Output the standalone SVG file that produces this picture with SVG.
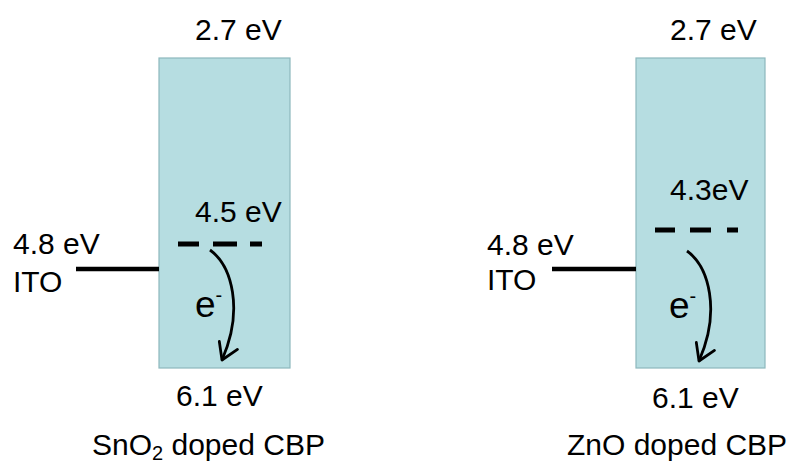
<svg xmlns="http://www.w3.org/2000/svg" width="809" height="465" viewBox="0 0 809 465">
<defs>
<style>
text{font-family:"Liberation Sans",Arial,sans-serif;font-size:30px;fill:#000}
.band{fill:#b6dde1;stroke:#8db8bd;stroke-width:1.2}
.ito{stroke:#000;stroke-width:4.5;fill:none}
.dash{stroke:#000;stroke-width:5;fill:none}
.arrow{stroke:#000;stroke-width:2.8;fill:none;marker-end:url(#head)}
.e{font-size:37px}
.sup{font-size:20px}
.sub{font-size:20px}
</style>
<marker id="head" viewBox="0 0 12 12" refX="10" refY="6" markerWidth="8.5" markerHeight="8.5" orient="auto" markerUnits="strokeWidth">
<path d="M2,1 L10,6 L2,11" fill="none" stroke="#000" stroke-width="1.4" stroke-linecap="round" stroke-linejoin="round"/>
</marker>
</defs>
<rect width="809" height="465" fill="#fff"/>

<g id="sno2">
<rect class="band" x="159" y="58" width="131" height="310"/>
<text x="195" y="40">2.7 eV</text>
<text x="195" y="222">4.5 eV</text>
<text x="176" y="406">6.1 eV</text>
<text x="92" y="455">SnO<tspan class="sub" dy="5">2</tspan><tspan dy="-5"> doped CBP</tspan></text>
<path class="dash" d="M178,244 H199 M213,244 H237 M250,244 H262"/>
<text class="e" x="195" y="317">e<tspan class="sup" dy="-15">-</tspan></text>
</g>

<g id="ito-left">
<text x="13" y="254">4.8 eV</text>
<text x="13" y="292">ITO</text>
</g>

<g id="zno">
<rect class="band" x="636" y="58" width="129" height="310"/>
<text x="670" y="40">2.7 eV</text>
<text x="670" y="200">4.3eV</text>
<text x="652" y="408">6.1 eV</text>
<text x="567" y="455">ZnO doped CBP</text>
<path class="dash" d="M655,230 H675 M690,230 H711 M727,230 H738"/>
<text class="e" x="669" y="318">e<tspan class="sup" dy="-15">-</tspan></text>
</g>

<g id="ito-right">
<text x="487" y="255">4.8 eV</text>
<text x="487" y="290">ITO</text>
</g>

<g id="connectors">
<line class="ito" x1="76" y1="269" x2="159" y2="269"/>
<line class="ito" x1="552" y1="269" x2="636" y2="269"/>
<path class="arrow" d="M210,250 C232,266 244,310 222,360"/>
<path class="arrow" d="M687,251 C709,267 721,311 699,361"/>
</g>
</svg>
